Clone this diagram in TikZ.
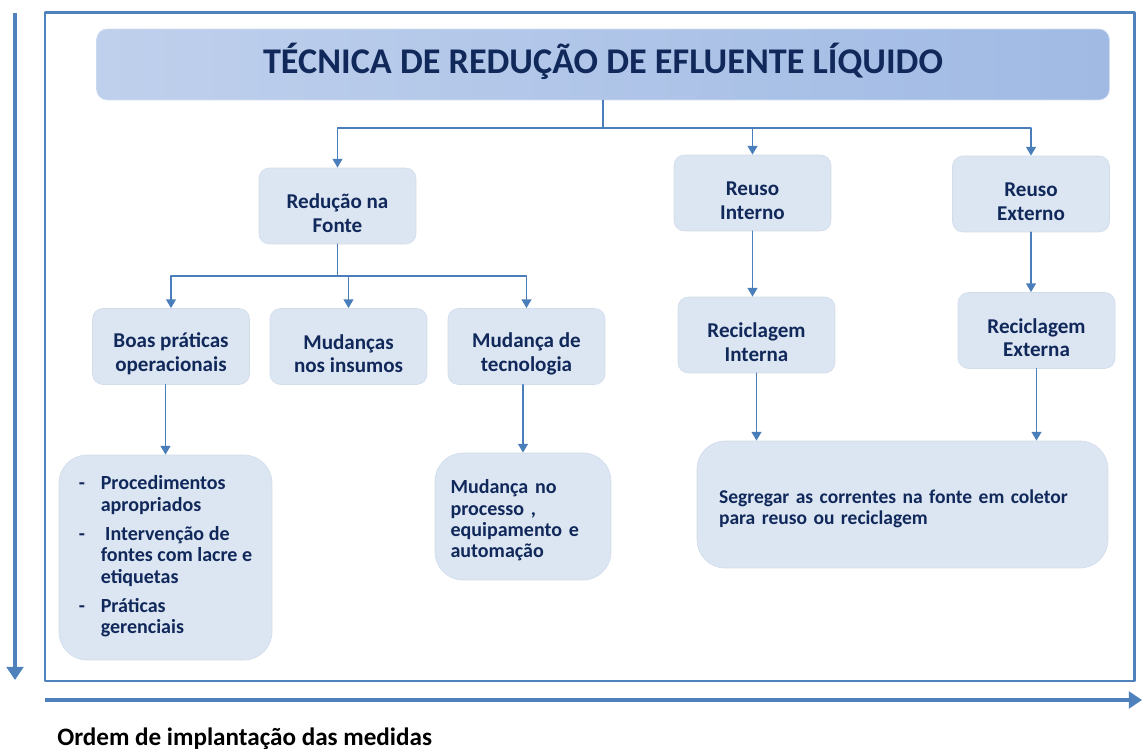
\documentclass[tikz,border=0pt]{standalone}
\usepackage{fontspec}
\setmainfont{Carlito}
\usetikzlibrary{arrows.meta}

\definecolor{axisblue}{HTML}{4F81BD}
\definecolor{linkblue}{HTML}{4A7EBB}
\definecolor{navy}{HTML}{10285A}
\definecolor{boxfill}{HTML}{DCE6F2}
\definecolor{boxedge}{HTML}{D2DDEC}
\definecolor{titleleft}{HTML}{BFD0EC}
\definecolor{titleright}{HTML}{A0BAE4}

\begin{document}
\begin{tikzpicture}[x=0.02cm,y=-0.02cm,line cap=round,line join=round]
    % styles
    \tikzstyle{frame}=[draw=axisblue,line width=1.7pt]
    \tikzstyle{axis}=[draw=axisblue,line width=2.8pt,line cap=butt,-{Triangle[width=9.5pt,length=7.5pt]}]
    \tikzstyle{conn}=[draw=linkblue,line width=1.1pt,-{Triangle[width=5.5pt,length=5pt]}]
    \tikzstyle{titlebox}=[rounded corners=6pt,left color=titleleft,right color=titleright,draw=titleleft!70!white,
      minimum width=20.26cm,minimum height=1.42cm,font=\fontsize{20.6}{23}\selectfont\bfseries,text=navy,
      text height=14pt,text depth=4.2pt]
    \tikzstyle{box}=[rounded corners=6pt,fill=boxfill,draw=boxedge,minimum width=3.14cm,minimum height=1.52cm,
      font=\fontsize{12}{13.5}\selectfont\bfseries,text=navy,align=center,text height=30pt]
    \tikzstyle{bigbox}=[rounded corners=16pt,fill=boxfill,draw=boxedge,
      font=\fontsize{11.4}{12.2}\selectfont\bfseries,text=navy]

    \useasboundingbox (0,0) rectangle (1142,749);

    % ----------------------------------------------------
    % frame and axes
    % ----------------------------------------------------
    \draw[frame] (45,13) rectangle (1134,681);
    \coordinate (vtop) at (15,13);
    \coordinate (vend) at (15,680);
    \coordinate (hstart) at (45,700);
    \coordinate (hend) at (1142,700);
    \draw[axis] (vtop) -- (vend);
    \draw[axis] (hstart) -- (hend);
    \node[anchor=base west,inner sep=0pt,font=\fontsize{14.3}{16}\selectfont\bfseries] (order) at (57,745)
      {Ordem de implantação das medidas};

    % ----------------------------------------------------
    % title
    % ----------------------------------------------------
    \node[titlebox] (title) at (603,64.5) {TÉCNICA DE REDUÇÃO DE EFLUENTE LÍQUIDO};

    % ----------------------------------------------------
    % first level
    % ----------------------------------------------------
    \node[box] (rf) at (337.5,206) {Redução na\\Fonte};
    \node[box] (ri) at (752.5,193) {Reuso\\Interno};
    \node[box] (re) at (1031,194) {Reuso\\Externo};

    % ----------------------------------------------------
    % second level
    % ----------------------------------------------------
    \node[box] (bp) at (171,346.5) {Boas práticas\\operacionais};
    \node[box] (mi) at (348.5,346.5) {Mudanças\\nos insumos};
    \node[box] (mt) at (526.5,346.5) {Mudança de\\tecnologia};
    \node[box] (rci) at (756.5,335) {Reciclagem\\Interna};
    \node[box] (rce) at (1036.5,330.5) {Reciclagem\\Externa};

    % ----------------------------------------------------
    % third level
    % ----------------------------------------------------
    \node[bigbox,minimum width=4.26cm,minimum height=4.1cm] (proc) at (165.5,557.5) {%
      \begin{tabular}{@{}l@{\hspace{9pt}}l@{}}
        - & Procedimentos\\
          & apropriados\\[4.5pt]
        - & \hspace{2.5pt}Intervenção de\\
          & fontes com lacre e\\
          & etiquetas\\[4.5pt]
        - & Práticas\\
          & gerenciais
      \end{tabular}};
    \node[bigbox,minimum width=3.52cm,minimum height=2.54cm,text width=2.9cm,align=left,text height=12.5pt] (mp)
      at (523,516.5) {Mudança no\\processo ,\\equipamento e\\automação};
    \node[bigbox,minimum width=8.22cm,minimum height=2.54cm,text width=7.34cm,align=left,text height=14.5pt,
      font=\fontsize{11.1}{12.2}\selectfont\bfseries] (seg)
      at (902.5,504.5) {\begin{tabular}[t]{@{}l@{}}
        Segregar as correntes na fonte em coletor\\
        para reuso ou reciclagem
      \end{tabular}};

    % ----------------------------------------------------
    % connectors
    % ----------------------------------------------------
    \draw[conn] (title.south) -- ++(0,28) coordinate (hub) -| (rf.north);
    \draw[conn] (hub) -| (ri.north);
    \draw[conn] (hub) -| (re.north);
    \draw[conn] (rf.south) -- ++(0,32) coordinate (rfhub) -| (bp.north);
    \draw[conn] (rfhub) -| (mi.north);
    \draw[conn] (rfhub) -| (mt.north);
    \draw[conn] (ri.south) -- (ri.south |- rci.north);
    \draw[conn] (re.south) -- (re.south |- rce.north);
    \draw[conn] (proc.north |- bp.south) -- (proc.north);
    \draw[conn] (mp.north |- mt.south) -- (mp.north);
    \draw[conn] (rci.south) -- (rci.south |- seg.north);
    \draw[conn] (rce.south) -- (rce.south |- seg.north);
\end{tikzpicture}
\end{document}
